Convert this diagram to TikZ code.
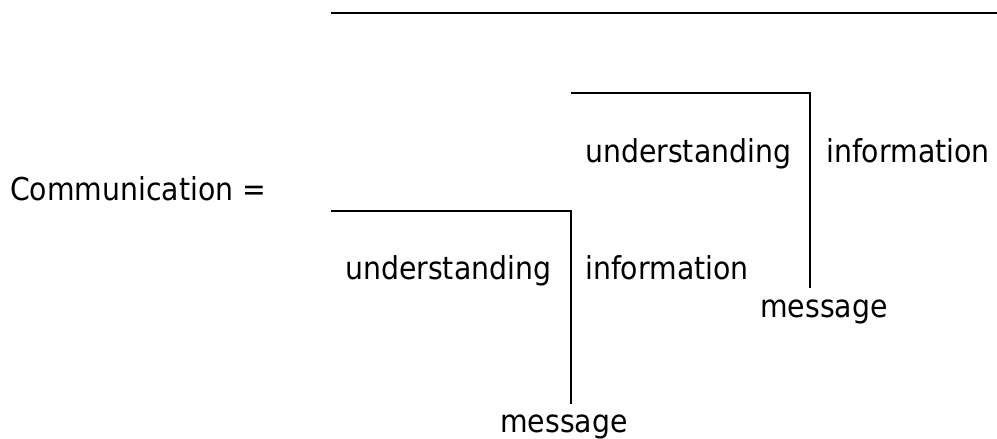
\documentclass[tikz,border=0pt]{standalone}
\usepackage{fontspec}
\setmainfont{DejaVu Sans Condensed}
\begin{document}
\begin{tikzpicture}[x=1bp,y=-1bp,
  lbl/.style={inner sep=0pt, anchor=base west, font=\fontsize{31.5bp}{38bp}\selectfont},
  rule/.style={line width=2bp, line cap=butt}]
\useasboundingbox (0,0) rectangle (997,439);
% top line
\coordinate (t1) at (331,13);
\coordinate (t2) at (997,13);
\draw[rule] (t1) -- (t2);
% upper bracket
\coordinate (u1) at (571,93);
\coordinate (u2) at (810,93);
\coordinate (u3) at (810,288);
\draw[rule] (u1) -- (u2) -- (u3);
% lower bracket
\coordinate (l1) at (331,211);
\coordinate (l2) at (571,211);
\coordinate (l3) at (571,404);
\draw[rule] (l1) -- (l2) -- (l3);
% labels
\node[lbl] (comm) at (10,201) {Communication =};
\node[lbl] (uund) at (585,163) {understanding};
\node[lbl] (uinf) at (826,163) {information};
\node[lbl] (umsg) at (760,318) {message};
\node[lbl] (lund) at (345,280) {understanding};
\node[lbl] (linf) at (585,280) {information};
\node[lbl] (lmsg) at (500,432) {message};
\end{tikzpicture}
\end{document}
